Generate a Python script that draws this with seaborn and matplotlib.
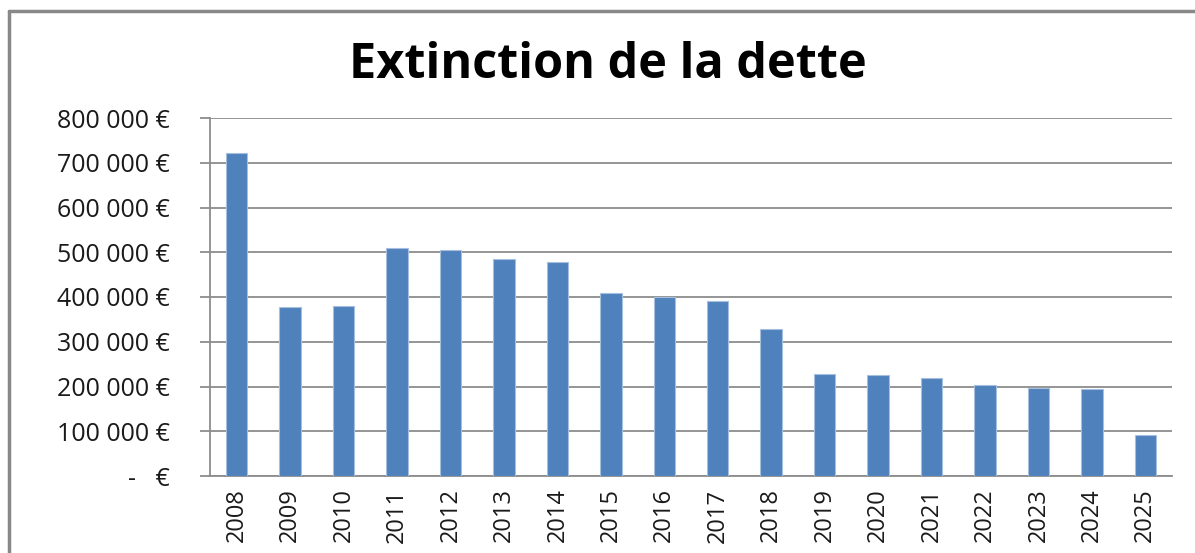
import numpy as np
import pandas as pd
import matplotlib.pyplot as plt
import matplotlib.ticker as mticker
from matplotlib.lines import Line2D
import seaborn as sns

# Données : remboursement annuel de la dette
annees = ["2008", "2009", "2010", "2011", "2012", "2013", "2014", "2015", "2016",
          "2017", "2018", "2019", "2020", "2021", "2022", "2023", "2024", "2025"]
montants = [722000, 378000, 381000, 509000, 504000, 485000, 479000, 408000, 400000,
            392000, 328000, 228000, 225000, 220000, 204000, 196000, 194000, 91000]

df = pd.DataFrame({"Année": annees, "Montant": montants})

sns.set_style("white")
plt.rcParams["font.family"] = ["Open Sans", "DejaVu Sans"]

fig = plt.figure(figsize=(11.95, 5.53), dpi=100)
ax = fig.add_axes([210 / 1195, 1 - 476 / 553, (1172 - 210) / 1195, (476 - 118) / 553])

sns.barplot(data=df, x="Année", y="Montant", ax=ax, color="#4F81BD", width=0.4,
            saturation=1, edgecolor="#A7BFDE", linewidth=0.8, zorder=3)

ax.set_ylim(0, 800000)
ax.set_xlim(-0.5, len(annees) - 0.5)
ax.set_yticks(np.arange(0, 800001, 100000))


def euro(v, pos):
    if v == 0:
        return "-   €"
    return f"{int(v):,}".replace(",", " ") + " €"


ax.yaxis.set_major_formatter(mticker.FuncFormatter(euro))
ax.yaxis.grid(True, color="#8C8C8C", linewidth=1.3, zorder=0)
ax.xaxis.grid(False)

# graduations entre les catégories (style Excel)
ax.set_xticks(np.arange(-0.5, len(annees), 1), minor=True)
ax.tick_params(axis="x", which="minor", length=7, width=1.3, color="#8C8C8C", direction="out")
ax.tick_params(axis="x", which="major", length=0, pad=9, labelsize=17, rotation=90)
ax.tick_params(axis="y", which="major", length=7, width=1.3, color="#8C8C8C",
               direction="out", pad=22, labelsize=18, left=True)
for lbl in ax.get_yticklabels() + ax.get_xticklabels():
    lbl.set_color("#1a1a1a")

for side in ["top", "right"]:
    ax.spines[side].set_visible(False)
for side in ["left", "bottom"]:
    ax.spines[side].set_color("#8C8C8C")
    ax.spines[side].set_linewidth(1.3)

ax.set_xlabel("")
ax.set_ylabel("")

fig.text(608 / 1195, 1 - 66 / 553, "Extinction de la dette", ha="center", va="center",
         fontsize=35, fontweight="bold", color="black")

# cadre du graphique
fig.add_artist(Line2D([9 / 1195, 1], [1 - 11 / 553, 1 - 11 / 553], color="#888888",
                      linewidth=2.5, transform=fig.transFigure))
fig.add_artist(Line2D([9 / 1195, 9 / 1195], [0, 1 - 11 / 553], color="#888888",
                      linewidth=2.5, transform=fig.transFigure))

plt.savefig("out.png", dpi=100)
